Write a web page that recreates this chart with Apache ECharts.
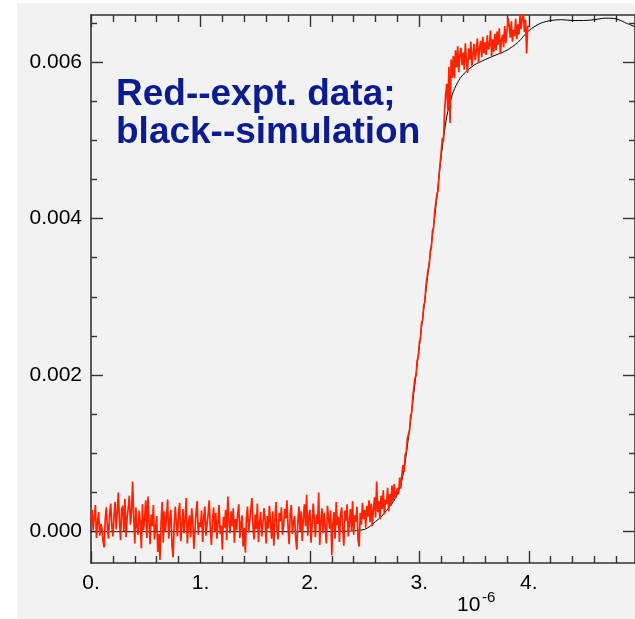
<!DOCTYPE html>
<html><head><meta charset="utf-8">
<script src="https://cdn.jsdelivr.net/npm/echarts@6/dist/echarts.min.js"></script>
<style>html,body{margin:0;padding:0;background:#fff}#c{width:635px;height:619px}</style>
</head><body><div id="c"></div>
<script>
// ---- axis ticks / labels ----
const X_MIN = 0, X_MAX = 4.97;
const Y_MIN = -0.0004, Y_MAX = 0.0066;
const xMajorTicks = [0, 1, 2, 3, 4];
const xMinorTicks = [0.2,0.4,0.6,0.8,1.2,1.4,1.6,1.8,2.2,2.4,2.6,2.8,3.2,3.4,3.6,3.8,4.2,4.4,4.6,4.8];
const yMajorTicks = [0, 0.002, 0.004, 0.006];
const yMinorTicks = [0.0005,0.001,0.0015,0.0025,0.003,0.0035,0.0045,0.005,0.0055,0.0065];
const xUnitLabel = ['10', '-6'];
const noteLines = ['Red--expt. data;', 'black--simulation'];

// ---- simulation (black) ----
const simX = [0,0.5,1,1.5,2,2.3,2.4,2.5,2.55,2.6,2.65,2.7,2.75,2.8,2.85,2.9,2.95,3.0,3.05,3.1,3.15,3.2,3.25,3.3,3.35,3.4,3.5,3.6,3.7,3.8,3.9,4.0,4.1,4.2,4.3,4.4,4.5,4.6,4.7,4.8,4.9,4.97];
const simY = [0,0,0,0,0,0.000005,0.00001,0.00003,0.00007,0.00013,0.00019,0.00027,0.00036,0.00048,0.00072,0.0012,0.00178,0.00237,0.00296,0.00355,0.00414,0.0048,0.0053,0.00558,0.00574,0.00584,0.00596,0.00603,0.00609,0.00615,0.00625,0.0064,0.00649,0.00653,0.00654,0.00653,0.00653,0.00654,0.00656,0.00655,0.00649,0.00645];

// ---- experiment (red), sampled every 0.01 from 0 ----
const redStart = 0, redStep = 0.01;
const redY = [
0.00015,0.00028,0.00002,0.00019,0.00034,-0.00008,0.00012,0.00025,-0.00005,0.00010,
0.00004,-0.00012,-0.00020,0.00016,0.00031,0.00005,-0.00009,0.00022,0.00036,0.00008,
-0.00006,0.00019,0.00038,0.00003,0.00026,0.00050,0.00014,-0.00011,0.00029,0.00033,
0.00001,0.00042,-0.00007,0.00018,0.00030,0.00046,0.00009,0.00024,0.00064,0.00020,
-0.00015,0.00031,0.00006,-0.00004,0.00027,0.00012,-0.00021,0.00035,0.00002,0.00017,
0.00040,-0.00008,0.00045,0.00013,-0.00016,0.00022,0.00007,0.00034,-0.00010,0.00005,
0.00020,-0.00026,-0.00003,-0.00036,0.00011,0.00038,-0.00014,0.00026,0.00000,0.00019,
0.00041,-0.00009,0.00015,0.00028,-0.00018,-0.00033,0.00008,0.00032,0.00010,-0.00006,
0.00024,0.00037,-0.00012,0.00006,0.00029,-0.00002,0.00016,0.00043,-0.00015,0.00009,
0.00021,-0.00007,0.00030,0.00014,-0.00022,0.00003,0.00025,0.00039,-0.00004,0.00012,
0.00006,0.00027,-0.00013,0.00018,0.00032,-0.00005,0.00009,0.00022,0.00040,0.00004,
-0.00017,0.00015,0.00031,0.00000,0.00024,-0.00009,0.00011,0.00034,-0.00003,0.00008,
-0.00023,0.00019,0.00005,0.00028,-0.00011,0.00045,0.00013,-0.00002,0.00026,0.00007,
0.00030,-0.00014,0.00016,0.00002,0.00023,0.00035,-0.00008,0.00010,0.00021,-0.00019,
0.00005,-0.00027,0.00018,0.00032,-0.00001,0.00014,0.00027,0.00043,0.00006,-0.00010,
0.00022,0.00003,0.00036,-0.00013,0.00012,0.00025,-0.00006,0.00009,0.00030,0.00016,
-0.00015,0.00020,0.00004,0.00033,0.00011,-0.00009,0.00026,-0.00018,0.00015,0.00038,
0.00002,-0.00010,0.00024,0.00013,0.00031,-0.00004,0.00008,0.00029,0.00017,0.00040,
0.00006,-0.00016,0.00023,0.00034,-0.00003,0.00012,0.00020,-0.00008,-0.00023,0.00014,
0.00032,0.00001,0.00026,-0.00012,0.00018,0.00035,0.00007,0.00047,-0.00005,0.00019,
0.00028,-0.00014,0.00009,0.00036,0.00015,-0.00007,0.00022,0.00010,0.00050,-0.00017,
0.00013,0.00030,-0.00002,0.00024,0.00006,-0.00015,0.00033,0.00018,0.00004,0.00027,
-0.00030,0.00011,0.00025,-0.00009,0.00038,0.00008,0.00019,-0.00013,0.00022,0.00031,
0.00003,-0.00018,0.00027,0.00014,0.00035,-0.00006,0.00010,0.00029,0.00002,0.00039,
-0.00004,0.00021,0.00013,0.00032,-0.00011,-0.00019,0.00024,0.00009,0.00037,0.00016,
0.00028,0.00005,0.00033,0.00019,0.00040,0.00012,0.00036,0.00007,0.00029,0.00044,
0.00018,0.00064,0.00025,0.00039,0.00016,0.00046,0.00029,0.00053,0.00022,0.00041,
0.00035,0.00056,0.00026,0.00048,0.00033,0.00059,0.00038,0.00061,0.00042,0.00050,
0.00056,0.00048,0.00069,0.00055,0.00073,0.00085,0.00076,0.00098,0.00102,0.00119,
0.00124,0.00129,0.00148,0.00152,0.00173,0.00175,0.00196,0.00200,0.00219,0.00223,
0.00242,0.00246,0.00267,0.00270,0.00289,0.00293,0.00314,0.00316,0.00335,0.00340,
0.00359,0.00363,0.00385,0.00388,0.00409,0.00410,0.00431,0.00435,0.00456,0.00458,
0.00486,0.00503,0.00499,0.00536,0.00558,0.00572,0.00539,0.00594,0.00522,0.00603,
0.00580,0.00608,0.00579,0.00615,0.00593,0.00620,0.00587,0.00609,0.00618,0.00596,
0.00612,0.00590,0.00624,0.00601,0.00586,0.00617,0.00603,0.00626,0.00595,0.00610,
0.00623,0.00602,0.00614,0.00630,0.00599,0.00618,0.00627,0.00606,0.00632,0.00611,
0.00625,0.00609,0.00634,0.00616,0.00621,0.00640,0.00607,0.00629,0.00613,0.00636,
0.00615,0.00639,0.00622,0.00643,0.00610,0.00628,0.00635,0.00619,0.00646,0.00624,
0.00638,0.00656,0.00647,0.00631,0.00652,0.00626,0.00641,0.00633,0.00655,0.00629,
0.00648,0.00635,0.00660,0.00642,0.00657,0.00663,0.00638,0.00654,0.00611,0.00646,
0.00645
];

const simData = simX.map((x, i) => [x, simY[i]]);
const redData = redY.map((v, i) => [+(redStart + i * redStep).toFixed(2), v]);

const AX = '#333333';
const FONT = '"Liberation Sans", Arial, Helvetica, sans-serif';

function xAx(pos, ticks, len, main) {
  return {
    type: 'value', position: pos, min: X_MIN, max: X_MAX,
    axisLine: { show: main, onZero: false, lineStyle: { color: AX, width: 1.6 } },
    axisTick: { show: true, inside: true, length: len, customValues: ticks, lineStyle: { color: AX, width: 1.4 } },
    axisLabel: (main && pos === 'bottom') ? {
      show: true, customValues: xMajorTicks, formatter: v => Math.round(v) + '.',
      color: '#000', fontSize: 21, fontFamily: FONT, margin: 10
    } : { show: false },
    splitLine: { show: false }, minorTick: { show: false }
  };
}
function yAx(pos, ticks, len, main) {
  return {
    type: 'value', position: pos, min: Y_MIN, max: Y_MAX,
    axisLine: { show: main, onZero: false, lineStyle: { color: AX, width: 1.6 } },
    axisTick: { show: true, inside: true, length: len, customValues: ticks, lineStyle: { color: AX, width: 1.4 } },
    axisLabel: (main && pos === 'left') ? {
      show: true, customValues: yMajorTicks, formatter: v => v.toFixed(3),
      color: '#000', fontSize: 21, fontFamily: FONT, margin: 9
    } : { show: false },
    splitLine: { show: false }, minorTick: { show: false }
  };
}

const chart = echarts.init(document.getElementById('c'), null, { renderer: 'canvas' });
chart.setOption({
  animation: false,
  backgroundColor: '#ffffff',
  grid: { left: 91, top: 15, right: -3, bottom: 56, containLabel: false },
  xAxis: [
    xAx('bottom', xMajorTicks, 12, true),
    xAx('bottom', xMinorTicks, 7, false),
    xAx('top', xMajorTicks, 12, true),
    xAx('top', xMinorTicks, 7, false)
  ],
  yAxis: [
    yAx('left', yMajorTicks, 12, true),
    yAx('left', yMinorTicks, 6, false),
    yAx('right', yMajorTicks, 12, true),
    yAx('right', yMinorTicks, 6, false)
  ],
  graphic: [
    { type: 'rect', z: -100, silent: true, shape: { x: 17, y: 3, width: 640, height: 640 }, style: { fill: '#f2f2f2' } },
    { type: 'text', z: 100, style: { x: 116, y: 95, text: noteLines[0], fill: '#0b1c8f', font: 'bold 37px ' + FONT, verticalAlign: 'middle', align: 'left' } },
    { type: 'text', z: 100, style: { x: 116, y: 133, text: noteLines[1], fill: '#0b1c8f', font: 'bold 37px ' + FONT, verticalAlign: 'middle', align: 'left' } },
    { type: 'text', z: 100, style: { x: 457, y: 605, text: xUnitLabel[0], fill: '#000', font: '21px ' + FONT, verticalAlign: 'middle', align: 'left' } },
    { type: 'text', z: 100, style: { x: 482, y: 598, text: xUnitLabel[1], fill: '#000', font: '15px ' + FONT, verticalAlign: 'middle', align: 'left' } }
  ],
  series: [
    { type: 'line', xAxisIndex: 0, yAxisIndex: 0, data: simData, symbol: 'none', smooth: 0.3, lineStyle: { color: '#000', width: 1 }, z: 2 },
    { type: 'line', xAxisIndex: 0, yAxisIndex: 0, data: redData, symbol: 'none', lineStyle: { color: '#ff2200', width: 1.7 }, z: 3 }
  ]
});
</script>
</body></html>
